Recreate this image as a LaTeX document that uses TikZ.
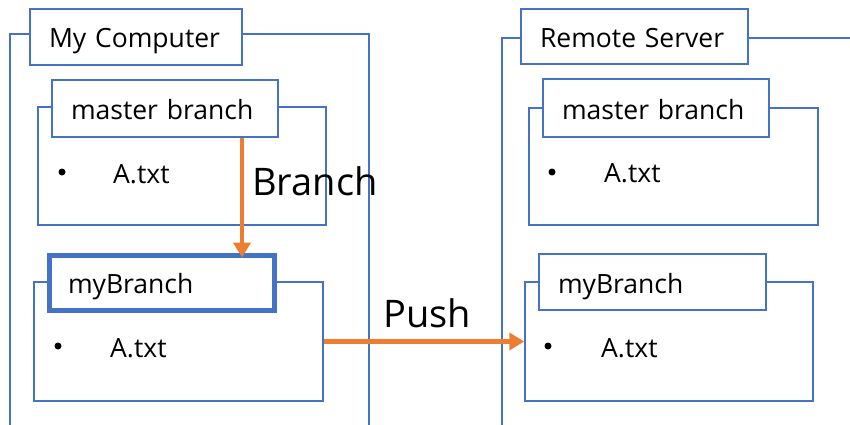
\documentclass[tikz,border=0pt]{standalone}
\usepackage{fontspec}
\setmainfont{Open Sans}
\usetikzlibrary{arrows.meta}
\definecolor{offblue}{HTML}{4472C4}
\definecolor{offorange}{HTML}{ED7D31}
\tikzset{
  frameline/.style={draw=offblue, line width=1.5pt},
  framebox/.style={frameline, rectangle, inner sep=0pt},
  titlebox/.style={frameline, fill=white, rectangle, inner xsep=19pt, inner ysep=0pt,
    align=left, text height=24pt, text depth=2pt, font=\fontsize{26.5}{30}\selectfont},
  thicktitle/.style={titlebox, line width=5pt},
  bulletdot/.style={circle, fill=black, minimum size=7pt, inner sep=0pt},
  itemtext/.style={anchor=base west, inner sep=0pt, font=\fontsize{26.5}{30}\selectfont},
  biglabel/.style={anchor=base west, inner sep=0pt, font=\fontsize{38}{44}\selectfont},
  orangearrow/.style={draw=offorange, line width=4.5pt,
    -{Triangle[width=17pt,length=15pt]}}
}
\begin{document}
\begin{tikzpicture}[x=1pt,y=-1pt]
\clip (0,0) rectangle (850,425);
\fill[white] (0,0) rectangle (850,425);
% outer frames (open at the picture's edges)
\coordinate (lo1) at (10,440);
\coordinate (lo2) at (10,34);
\coordinate (lo3) at (369,34);
\coordinate (lo4) at (369,440);
\draw[frameline] (lo1) -- (lo2) -- (lo3) -- (lo4);
\coordinate (ro1) at (502,440);
\coordinate (ro2) at (502,38);
\coordinate (ro3) at (870,38);
\draw[frameline] (ro1) -- (ro2) -- (ro3);
% inner frames
\node[framebox, minimum width=288pt, minimum height=118pt] (lmf) at (182,166) {};
\node[framebox, minimum width=289pt, minimum height=117pt] (rmf) at (673.5,166.5) {};
\node[framebox, minimum width=289pt, minimum height=119pt] (lbf) at (178.5,341.5) {};
\node[framebox, minimum width=288pt, minimum height=119pt] (rbf) at (669,341.5) {};
% title boxes
\node[titlebox, text width=174pt, minimum height=56pt] (lct) at (136,37) {My Computer};
\node[titlebox, text width=189pt, minimum height=55pt] (rst) at (634.5,36.5) {Remote Server};
\node[titlebox, text width=188pt, minimum height=57pt] (lmt) at (165,108.5) {master branch};
\node[titlebox, text width=188pt, minimum height=58pt] (rmt) at (656,108) {master branch};
\node[thicktitle, text width=187pt, minimum height=55pt] (lbt) at (161.5,282.5) {myBranch};
\node[titlebox, text width=189pt, minimum height=56pt] (rbt) at (652.5,282) {myBranch};
% items
\node[bulletdot] (lmb) at (62,172) {};
\node[itemtext] (lma) at (113,183) {A.txt};
\node[bulletdot] (rmb) at (552,172) {};
\node[itemtext] (rma) at (604,182) {A.txt};
\node[bulletdot] (lbb) at (58,346) {};
\node[itemtext] (lba) at (110,357) {A.txt};
\node[bulletdot] (rbb) at (548,346) {};
\node[itemtext] (rba) at (601,357) {A.txt};
% labels
\node[biglabel] (brl) at (252,195) {Branch};
\node[biglabel] (pul) at (383,327) {Push};
% arrows
\coordinate (ax) at (242,0);
\draw[orangearrow] (lmt.south -| ax) -- ([yshift=-5pt]lbt.north -| ax);
\draw[orangearrow] (lbf.east) -- (rbf.west);
\end{tikzpicture}
\end{document}
